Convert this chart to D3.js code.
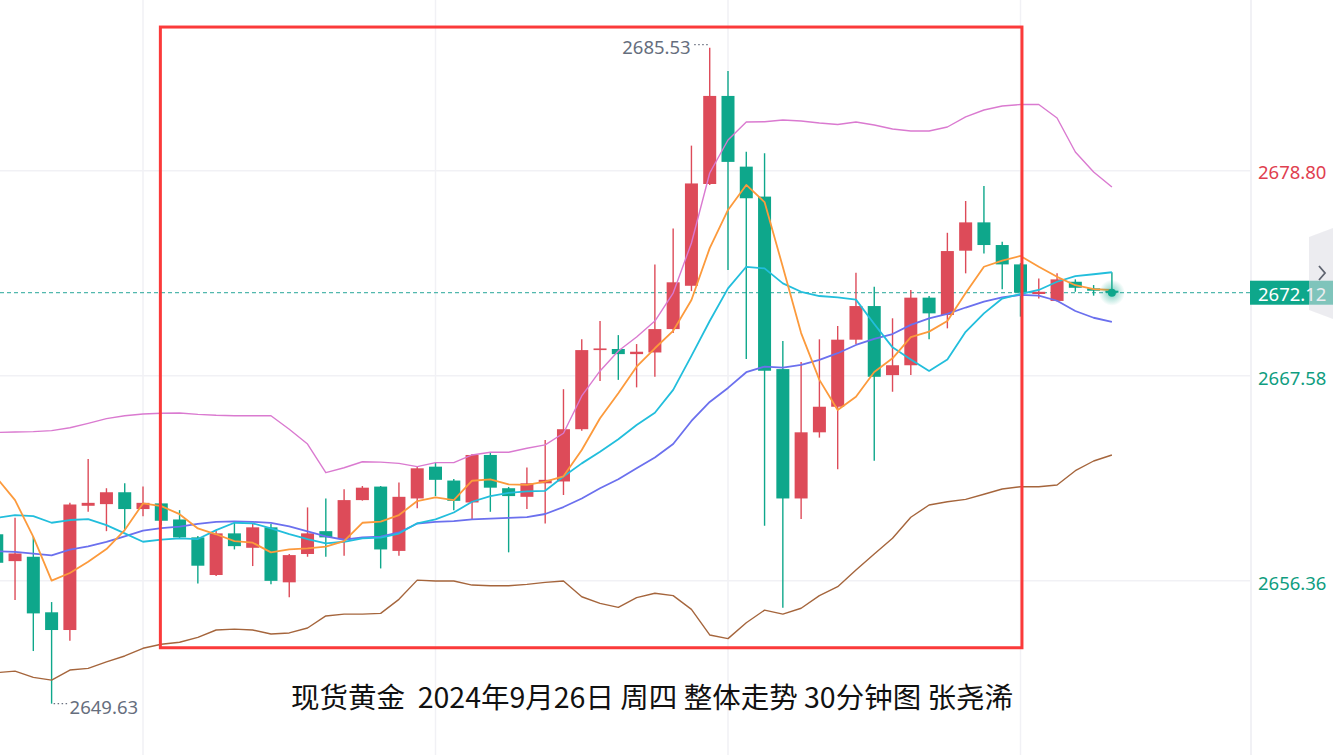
<!DOCTYPE html>
<html><head><meta charset="utf-8">
<script src="https://cdn.jsdelivr.net/npm/d3@7/dist/d3.min.js"></script>
<style>html,body{margin:0;padding:0;background:#fff;overflow:hidden}</style>
</head><body>
<svg id="c" width="1333" height="755"></svg>
<script>
// ---- data ----
const opens  = [2658.90,2657.43,2657.67,2654.63,2653.66,2660.46,2660.55,2661.20,2660.28,2660.59,2659.71,2658.73,2656.67,2658.95,2658.16,2659.28,2656.27,2657.82,2659.07,2658.64,2660.77,2661.51,2657.99,2660.86,2662.60,2661.84,2660.64,2663.24,2661.42,2660.95,2661.69,2661.79,2664.65,2668.98,2669.04,2668.76,2668.85,2670.13,2672.50,2678.07,2682.89,2679.02,2677.38,2667.94,2660.86,2664.48,2665.88,2669.55,2671.39,2667.61,2668.15,2671.85,2670.90,2674.42,2675.97,2674.73,2673.67,2672.05,2671.67,2672.72,2672.36,2672.23];
const highs  = [2659.02,2659.80,2658.80,2655.19,2660.62,2663.02,2661.42,2661.69,2661.51,2660.61,2660.22,2658.80,2659.08,2659.62,2659.50,2659.46,2657.82,2660.37,2660.86,2661.36,2661.54,2661.54,2661.74,2662.58,2662.82,2661.93,2663.30,2663.39,2661.49,2662.56,2664.06,2666.84,2669.57,2670.57,2669.80,2669.31,2673.67,2675.64,2680.17,2685.53,2684.25,2679.84,2679.75,2669.48,2668.33,2669.57,2670.30,2673.21,2672.45,2670.72,2672.27,2671.94,2675.40,2677.14,2677.96,2674.91,2673.74,2672.90,2673.18,2672.85,2672.54,2673.24];
const lows   = [2657.16,2655.30,2652.51,2649.63,2653.07,2660.13,2659.07,2659.13,2659.89,2659.40,2658.69,2656.21,2656.61,2658.07,2657.16,2656.17,2655.45,2657.67,2657.67,2657.72,2660.74,2657.03,2657.72,2660.32,2660.99,2660.22,2659.73,2660.13,2657.91,2660.28,2659.49,2661.05,2664.57,2667.29,2667.35,2666.94,2667.52,2669.91,2672.21,2678.01,2673.36,2668.49,2659.36,2654.88,2659.73,2664.19,2662.46,2669.31,2662.93,2666.70,2667.61,2669.57,2670.17,2673.18,2674.27,2672.31,2670.81,2671.81,2671.64,2672.17,2671.96,2672.08];
const closes = [2657.34,2657.85,2654.57,2653.66,2660.53,2660.62,2661.20,2660.28,2660.62,2659.64,2658.73,2657.18,2658.95,2658.25,2659.28,2656.35,2657.76,2658.95,2658.73,2660.77,2661.45,2658.07,2660.95,2662.51,2661.88,2660.73,2663.24,2661.45,2660.99,2661.69,2661.88,2664.65,2668.98,2669.07,2668.76,2668.89,2670.13,2672.69,2678.10,2682.89,2679.28,2677.29,2667.85,2660.86,2664.48,2665.88,2669.55,2671.39,2667.52,2668.15,2671.85,2670.99,2674.40,2675.97,2674.73,2673.67,2672.12,2672.17,2672.85,2672.39,2672.23,2672.12];

const maFast = [2661.98,2660.77,2658.76,2656.36,2656.78,2657.40,2658.09,2659.13,2660.59,2660.44,2660.00,2659.22,2658.90,2658.53,2658.44,2657.91,2658.07,2658.13,2658.22,2658.53,2659.53,2659.59,2659.95,2660.72,2660.92,2660.77,2661.83,2661.91,2661.63,2661.60,2661.78,2662.07,2663.51,2665.25,2666.62,2668.07,2669.08,2670.03,2671.72,2674.56,2676.65,2678.02,2677.08,2673.53,2669.91,2667.35,2665.70,2666.43,2667.78,2668.53,2669.69,2669.99,2670.57,2672.10,2673.54,2673.88,2674.13,2673.54,2672.99,2672.53,2672.32,2672.27];
const maSlow = [2659.80,2659.95,2659.89,2659.53,2659.68,2659.73,2659.40,2658.95,2658.49,2658.61,2658.68,2658.64,2659.13,2659.53,2659.50,2659.22,2658.91,2658.64,2658.40,2658.49,2658.68,2658.72,2658.94,2659.50,2659.72,2660.09,2660.68,2660.99,2661.17,2661.25,2661.28,2662.06,2662.78,2663.42,2664.10,2664.88,2665.55,2666.80,2668.66,2670.57,2672.36,2673.54,2673.45,2672.63,2672.17,2671.94,2671.87,2671.74,2670.41,2669.13,2668.47,2667.84,2668.47,2669.98,2670.99,2671.80,2672.05,2672.27,2672.72,2673.03,2673.13,2673.24];
const bollMid = [2657.97,2657.94,2657.84,2657.75,2658.06,2658.24,2658.48,2658.79,2659.10,2659.24,2659.32,2659.47,2659.58,2659.61,2659.58,2659.52,2659.33,2659.06,2658.79,2658.60,2658.73,2658.77,2659.00,2659.49,2659.58,2659.62,2659.71,2659.76,2659.80,2659.84,2660.01,2660.39,2660.86,2661.42,2661.91,2662.51,2663.10,2663.84,2665.10,2666.14,2666.91,2667.77,2668.08,2668.02,2668.17,2668.44,2668.81,2669.26,2669.59,2669.86,2670.36,2670.72,2670.96,2671.31,2671.63,2671.86,2672.00,2671.96,2671.68,2671.12,2670.75,2670.53];
const bollUpper = [2664.47,2664.50,2664.52,2664.57,2664.73,2664.97,2665.23,2665.39,2665.48,2665.52,2665.54,2665.46,2665.41,2665.39,2665.39,2665.39,2664.65,2663.84,2662.27,2662.54,2662.87,2662.85,2662.78,2662.60,2662.82,2662.82,2663.24,2663.39,2663.39,2663.61,2663.79,2664.43,2666.47,2667.84,2668.93,2669.70,2670.57,2672.10,2674.84,2678.67,2680.48,2681.46,2681.48,2681.57,2681.52,2681.41,2681.33,2681.46,2681.30,2681.08,2680.97,2680.97,2681.19,2681.74,2682.12,2682.34,2682.42,2682.42,2681.68,2679.82,2678.73,2677.91];
const bollLower = [2651.33,2651.41,2651.07,2650.92,2651.47,2651.56,2651.92,2652.24,2652.66,2652.88,2652.99,2653.26,2653.66,2653.71,2653.66,2653.44,2653.50,2653.77,2654.43,2654.53,2654.53,2654.57,2655.34,2656.39,2656.34,2656.34,2656.12,2656.08,2656.08,2656.16,2656.27,2656.34,2655.48,2655.12,2654.90,2655.43,2655.67,2655.54,2654.79,2653.39,2653.19,2654.06,2654.75,2654.53,2654.85,2655.54,2656.03,2656.94,2657.82,2658.68,2659.83,2660.50,2660.68,2660.81,2661.09,2661.38,2661.50,2661.50,2661.60,2662.38,2662.91,2663.24];

const tickValues = [2656.36, 2667.58, 2678.80];
const tickColors = ["#0f9d80", "#0f9d80", "#e0404f"];
const lastPrice = 2672.12;
const maxMark = {index: 39, value: 2685.53};
const minMark = {index: 3, value: 2649.63};
const gridIndices = [8, 24, 40, 56];
const boxRange = {from: 8.95, to: 56.08, top: 2686.66, bottom: 2652.69};
const titleText = "现货黄金\u00a0\u00a02024年9月26日 周四 整体走势 30分钟图 张尧浠";

// ---- layout ----
const W = 1333, H = 755, plotRight = 1250;
const svg = d3.select("#c");
const n = closes.length;
const x = d3.scaleLinear().domain([0, n - 1]).range([-3.24, 1111.9]);
const y = d3.scaleLinear().domain([2646.82, 2688.14]).range([H, 0]);
const UP = "#dd4b59", DOWN = "#0ea78b";

const defs = svg.append("defs");
defs.append("clipPath").attr("id", "plot").append("rect")
  .attr("x", 0).attr("y", 0).attr("width", plotRight).attr("height", H);
const rg = defs.append("radialGradient").attr("id", "glow");
rg.append("stop").attr("offset", "0%").attr("stop-color", "#0ea78b").attr("stop-opacity", 0.55);
rg.append("stop").attr("offset", "100%").attr("stop-color", "#0ea78b").attr("stop-opacity", 0);

// grid
const grid = svg.append("g");
grid.selectAll("line.h").data(tickValues).join("line")
  .attr("x1", 0).attr("x2", plotRight).attr("y1", d => y(d)).attr("y2", d => y(d))
  .attr("stroke", "#f1f1f5").attr("stroke-width", 1.5);
grid.selectAll("line.v").data(gridIndices).join("line")
  .attr("x1", d => x(d)).attr("x2", d => x(d)).attr("y1", 0).attr("y2", H)
  .attr("stroke", "#f1f1f5").attr("stroke-width", 1.5);
svg.append("line").attr("x1", plotRight + 1).attr("x2", plotRight + 1).attr("y1", 0).attr("y2", H)
  .attr("stroke", "#ececf2").attr("stroke-width", 1.5);

const plot = svg.append("g").attr("clip-path", "url(#plot)");

// last price dashed line
plot.append("line").attr("x1", 0).attr("x2", plotRight)
  .attr("y1", y(lastPrice)).attr("y2", y(lastPrice))
  .attr("stroke", "#26a69a").attr("stroke-width", 1).attr("stroke-dasharray", "4,3");

// candles
const idx = d3.range(n);
const bw = 13;
const cg = plot.append("g");
cg.selectAll("line.w").data(idx).join("line")
  .attr("x1", i => x(i)).attr("x2", i => x(i))
  .attr("y1", i => y(highs[i])).attr("y2", i => y(lows[i]))
  .attr("stroke", i => closes[i] >= opens[i] ? UP : DOWN).attr("stroke-width", 1.4);
cg.selectAll("rect").data(idx).join("rect")
  .attr("x", i => x(i) - bw / 2)
  .attr("y", i => y(Math.max(opens[i], closes[i])))
  .attr("width", bw)
  .attr("height", i => Math.max(1.5, Math.abs(y(opens[i]) - y(closes[i]))))
  .attr("fill", i => closes[i] >= opens[i] ? UP : DOWN);

// indicator lines
const lineGen = arr => d3.line().x((d, i) => x(i)).y(d => y(d))(arr);
[[bollUpper, "#da7ad0", 1.4], [bollLower, "#a5653c", 1.4], [bollMid, "#6b70ee", 1.8],
 [maSlow, "#22bedc", 1.8], [maFast, "#fc9a3c", 1.8]].forEach(([arr, col, w]) => {
  plot.append("path").attr("d", lineGen(arr)).attr("fill", "none")
    .attr("stroke", col).attr("stroke-width", w).attr("stroke-linejoin", "round");
});

// glowing last point
plot.append("circle").attr("cx", x(n - 1)).attr("cy", y(lastPrice)).attr("r", 13).attr("fill", "url(#glow)");
plot.append("circle").attr("cx", x(n - 1)).attr("cy", y(lastPrice)).attr("r", 4).attr("fill", "#0ea78b");

// max / min markers
const markFont = "'Noto Sans', 'DejaVu Sans', sans-serif";
const labelSize = 18.5;
plot.append("line").attr("x1", x(maxMark.index) - 2).attr("x2", x(maxMark.index) - 17)
  .attr("y1", y(maxMark.value) - 3).attr("y2", y(maxMark.value) - 3)
  .attr("stroke", "#6b7280").attr("stroke-width", 1.2).attr("stroke-dasharray", "1.5,2.5");
plot.append("text").attr("x", x(maxMark.index) - 19).attr("y", y(maxMark.value) + 1)
  .attr("text-anchor", "end").attr("dominant-baseline", "middle")
  .attr("font-family", markFont).attr("font-size", labelSize).attr("fill", "#666e7d")
  .text(maxMark.value.toFixed(2));
plot.append("line").attr("x1", x(minMark.index) + 2).attr("x2", x(minMark.index) + 17)
  .attr("y1", y(minMark.value)).attr("y2", y(minMark.value))
  .attr("stroke", "#6b7280").attr("stroke-width", 1.2).attr("stroke-dasharray", "1.5,2.5");
plot.append("text").attr("x", x(minMark.index) + 18).attr("y", y(minMark.value) + 5)
  .attr("text-anchor", "start").attr("dominant-baseline", "middle")
  .attr("font-family", markFont).attr("font-size", labelSize).attr("fill", "#666e7d")
  .text(minMark.value.toFixed(2));

// annotation box
svg.append("rect")
  .attr("x", x(boxRange.from)).attr("y", y(boxRange.top))
  .attr("width", x(boxRange.to) - x(boxRange.from))
  .attr("height", y(boxRange.bottom) - y(boxRange.top))
  .attr("fill", "none").attr("stroke", "#fb3a3a").attr("stroke-width", 3);

// right axis
const axisG = svg.append("g").attr("transform", `translate(${plotRight},0)`)
  .call(d3.axisRight(y).tickValues(tickValues).tickSize(0).tickPadding(8).tickFormat(d3.format(".2f")));
axisG.select(".domain").remove();
axisG.selectAll("text").attr("font-family", markFont).attr("font-size", labelSize)
  .attr("dy", "0.45em")
  .attr("fill", (d, i) => tickColors[i]);

// last price label
const lp = svg.append("g");
lp.append("rect").attr("x", plotRight).attr("y", y(lastPrice) - 12).attr("width", W - plotRight).attr("height", 24)
  .attr("fill", "#0ea78b");
lp.append("text").attr("x", plotRight + 8).attr("y", y(lastPrice) + 0.5).attr("dominant-baseline", "central")
  .attr("font-family", markFont).attr("font-size", labelSize).attr("fill", "#fff").text(lastPrice.toFixed(2));

// side tab
svg.append("path")
  .attr("d", `M${W},${228} L${1309},${237} L${1309},${310} L${W},${319} Z`)
  .attr("fill", "#dcdce4").attr("fill-opacity", 0.55);
svg.append("path").attr("d", "M1319,266 L1325,273 L1319,280")
  .attr("fill", "none").attr("stroke", "#5f6470").attr("stroke-width", 1.8);

// title
svg.append("text").attr("x", 652).attr("y", 708).attr("text-anchor", "middle")
  .attr("font-family", "'Noto Sans CJK SC', sans-serif").attr("font-size", 28.5)
  .attr("fill", "#111").text(titleText);
</script>
</body></html>
